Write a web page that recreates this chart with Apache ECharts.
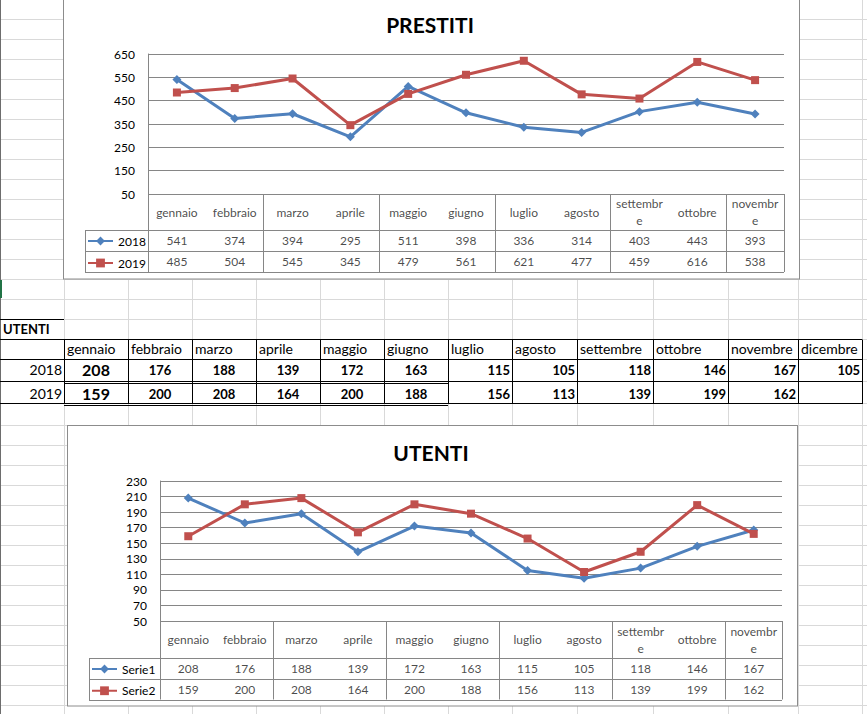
<!DOCTYPE html>
<html><head><meta charset="utf-8">
<script src="https://cdn.jsdelivr.net/npm/echarts@6/dist/echarts.min.js"></script>
<style>
html,body{margin:0;padding:0;background:#fff;}
body{width:867px;height:714px;overflow:hidden;position:relative;}
#deco{position:absolute;left:0;top:0;}
#chart{position:absolute;left:0;top:0;width:867px;height:714px;}
</style></head>
<body>
<svg id="deco" width="867" height="714" xmlns="http://www.w3.org/2000/svg"></svg>
<div id="chart"></div>
<script>
// ---------------- DATA ----------------
const months = ['gennaio','febbraio','marzo','aprile','maggio','giugno','luglio','agosto','settembre','ottobre','novembre'];
const monthsAll = ['gennaio','febbraio','marzo','aprile','maggio','giugno','luglio','agosto','settembre','ottobre','novembre','dicembre'];
const prestiti2018 = [541,374,394,295,511,398,336,314,403,443,393];
const prestiti2019 = [485,504,545,345,479,561,621,477,459,616,538];
const utenti2018 = [208,176,188,139,172,163,115,105,118,146,167,105];
const utenti2019 = [159,200,208,164,200,188,156,113,139,199,162];
const prestitiNames = ['2018','2019'];
const utentiNames = ['Serie1','Serie2'];
const utentiRowLabels = ['2018','2019'];
const prestitiAxis = {min:50, max:650, interval:100};
const utentiAxis = {min:50, max:230, interval:20};

// ---------------- STYLE ----------------
const BLUE = '#4F81BD', RED = '#C0504D', GRID = '#868686';
const FONT = 'Lato, "Liberation Sans", sans-serif';

// ---------------- SPREADSHEET DECORATION ----------------
const NS = 'http://www.w3.org/2000/svg';
const svg = document.getElementById('deco');
function el(tag, attrs, text){ const e=document.createElementNS(NS,tag); for(const k in attrs) e.setAttribute(k,attrs[k]); if(text!==undefined) e.textContent=text; svg.appendChild(e); return e; }
const colEdges = [0,64,128,192,256,320,384,448,512,577,653,728,798,862];
const rowLines = [];
for (let y=19.5; y<=360; y+=20) rowLines.push(y);
rowLines.push(381.5, 403.5);
for (let y=425.5; y<714; y+=20) rowLines.push(y);
rowLines.forEach(y=>el('line',{x1:0,x2:867,y1:y,y2:y,stroke:'#d9d9d9','stroke-width':1}));
colEdges.slice(1).forEach(x=>el('line',{x1:x+0.5,x2:x+0.5,y1:0,y2:714,stroke:'#d9d9d9','stroke-width':1}));
el('line',{x1:0.5,x2:0.5,y1:0,y2:714,stroke:'#6d6d6d','stroke-width':1});
el('rect',{x:0,y:280,width:2,height:18,fill:'#217346'});
// chart frames
el('rect',{x:63.5,y:-2,width:736,height:281,fill:'#fff',stroke:'#8c8c8c','stroke-width':1});
el('rect',{x:67.5,y:425.5,width:730,height:280.5,fill:'#fff',stroke:'#8c8c8c','stroke-width':1});

// middle UTENTI sheet table
const black = {stroke:'#000','stroke-width':1};
function hl(y,x1,x2){ el('line',Object.assign({x1:x1,x2:x2,y1:y,y2:y},black)); }
function vl(x,y1,y2){ el('line',Object.assign({x1:x,x2:x,y1:y1,y2:y2},black)); }
const tEnd = colEdges[colEdges.length-1];
const dblEnd = colEdges[7];
hl(319.5,0,64);
hl(339.5,0,tEnd); hl(359.5,0,tEnd);
hl(381.5,0,tEnd); hl(383.5,64,dblEnd);
hl(403.5,0,tEnd); hl(405.5,64,dblEnd);
colEdges.slice(1).forEach(x=>vl(x+0.5,339.5,404));
el('text',{x:3,y:334,'font-family':FONT,'font-size':13,'font-weight':'bold',fill:'#000'},'UTENTI');
monthsAll.forEach((m,i)=>el('text',{x:colEdges[i+1]+3,y:354,'font-family':FONT,'font-size':14,fill:'#000'},m));
[[utenti2018,375],[utenti2019,398.5]].forEach(([arr,y],r)=>{
  el('text',{x:62,y:y,'text-anchor':'end','font-family':FONT,'font-size':14,fill:'#000'},utentiRowLabels[r]);
  arr.forEach((v,i)=>{
    const x0=colEdges[i+1], x1=colEdges[i+2];
    const centered = i<6;
    el('text',{x:centered?(x0+x1)/2:x1-2,y:y+(i===0?1:0),'text-anchor':centered?'middle':'end','font-family':FONT,
      'font-size':i===0?16:13,'font-weight':'bold',fill:'#000'},String(v));
  });
});

// ---------------- ECHARTS ----------------
const chart = echarts.init(document.getElementById('chart'), null, {renderer:'svg'});

const charts = [
  {title:'PRESTITI', titleX:430, titleTop:12, cats:months, names:prestitiNames, s:[prestiti2018,prestiti2019], axis:prestitiAxis,
   left:148, right:784, top:54, plotH:140, head:36, row1:21, row2:21, legendLeft:85},
  {title:'UTENTI', titleX:431, titleTop:440, cats:months, names:utentiNames, s:[utenti2018.slice(0,11),utenti2019], axis:utentiAxis,
   left:160, right:782, top:481, plotH:140, head:37, row1:21, row2:20.5, legendLeft:89}
];

const option = {textStyle:{fontFamily:FONT}, animation:false, title:[], legend:[], grid:[], xAxis:[], yAxis:[], series:[], graphic:[]};

charts.forEach((c,k)=>{
  const gi = k*2;
  const width = c.right-c.left;
  const tblTop = c.top+c.plotH;
  const tblH = c.head+c.row1+c.row2;
  const bandW = width/c.cats.length;
  option.title.push({text:c.title, left:c.titleX, top:c.titleTop, textAlign:'center', padding:0,
    textStyle:{fontSize:21, fontWeight:'bold', color:'#000', lineHeight:24, fontFamily:FONT}});
  option.grid.push({left:c.left, top:c.top, width:width, height:c.plotH});
  option.grid.push({left:c.left, top:tblTop, width:width, height:tblH});
  option.xAxis.push({gridIndex:gi, type:'category', data:c.cats, boundaryGap:true, show:false});
  option.xAxis.push({gridIndex:gi+1, type:'category', data:c.cats, boundaryGap:true,
    axisLine:{show:false}, axisTick:{show:false}, axisLabel:{show:false},
    splitLine:{show:true, showMinLine:true, showMaxLine:true, lineStyle:{color:GRID, width:1}}});
  option.yAxis.push({gridIndex:gi, type:'value', min:c.axis.min, max:c.axis.max, interval:c.axis.interval,
    axisLine:{show:true, lineStyle:{color:GRID, width:1}}, axisTick:{show:false},
    axisLabel:{color:'#000', fontSize:12, margin:13},
    splitLine:{show:true, lineStyle:{color:GRID, width:1}}});
  option.yAxis.push({gridIndex:gi+1, type:'value', min:0, max:tblH, inverse:true, show:false});

  const styles = [{symbol:'diamond', symbolSize:9, color:BLUE},{symbol:'rect', symbolSize:8, color:RED}];
  c.s.forEach((arr,j)=>{
    option.series.push({name:c.names[j], type:'line', xAxisIndex:gi, yAxisIndex:gi, data:arr,
      symbol:styles[j].symbol, symbolSize:styles[j].symbolSize, showSymbol:true, showAllSymbol:true,
      color:styles[j].color, itemStyle:{color:styles[j].color},
      lineStyle:{width:3, color:styles[j].color}, z:3+j});
  });
  // table text through the table grid's scales
  const rows = [
    {y:c.head/2, texts:c.cats, size:12},
    {y:c.head+c.row1/2, texts:c.s[0].map(String), size:12},
    {y:c.head+c.row1+c.row2/2, texts:c.s[1].map(String), size:12}
  ];
  rows.forEach((r,ri)=>{
    option.series.push({name:'tbl'+k+'_'+ri, type:'scatter', xAxisIndex:gi+1, yAxisIndex:gi+1, silent:true,
      symbolSize:1, itemStyle:{color:'rgba(0,0,0,0)'},
      data:c.cats.map((m,i)=>[i, r.y]),
      label:{show:true, position:'inside', formatter:p=>r.texts[p.dataIndex], color:'#1a1a1a', fontSize:r.size,
        width:bandW-6, overflow:'breakAll', lineHeight:17, align:'center', verticalAlign:'middle'}});
  });
  // table row rules incl. legend column
  const yR = [tblTop+c.head, tblTop+c.head+c.row1, tblTop+tblH].map(v=>Math.round(v)+0.5);
  yR.forEach(y=>option.graphic.push({type:'line', silent:true, shape:{x1:c.legendLeft, y1:y, x2:c.right, y2:y}, style:{stroke:GRID, lineWidth:1}}));
  option.graphic.push({type:'line', silent:true, shape:{x1:c.legendLeft+0.5, y1:yR[0], x2:c.legendLeft+0.5, y2:yR[2]}, style:{stroke:GRID, lineWidth:1}});

  option.legend.push({data:c.names, orient:'vertical', left:c.legendLeft+2, top:tblTop+c.head+c.row1/2-5.5, padding:0,
    itemWidth:25, itemHeight:11, itemGap:(c.row1+c.row2)/2-11, selectedMode:false,
    textStyle:{fontSize:12, color:'#000', lineHeight:11}});
});

chart.setOption(option);
</script>
</body></html>
